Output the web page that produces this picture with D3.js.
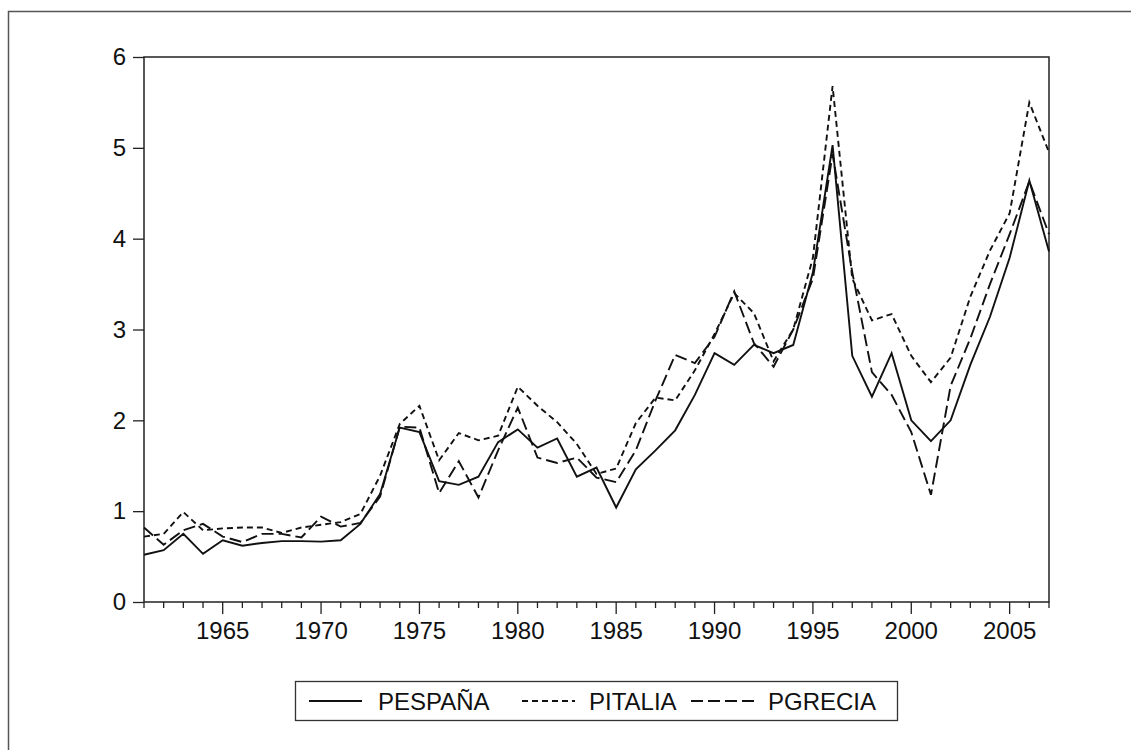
<!DOCTYPE html>
<html>
<head>
<meta charset="utf-8">
<script src="https://cdn.jsdelivr.net/npm/d3@7"></script>
<style>
  body { margin: 0; background: #fff; }
  text { font-family: "Liberation Sans", Arial, sans-serif; fill: #111; }
</style>
</head>
<body>
<div id="chart"></div>
<script>
var years = d3.range(1961, 2008);

var espana = [0.52, 0.57, 0.75, 0.53, 0.68, 0.62, 0.65, 0.67, 0.67, 0.665,
  0.68, 0.86, 1.19, 1.92, 1.87, 1.33, 1.29, 1.38, 1.76, 1.90,
  1.70, 1.80, 1.38, 1.48, 1.04, 1.46, 1.67, 1.89, 2.28, 2.74,
  2.61, 2.83, 2.74, 2.83, 3.63, 5.03, 2.71, 2.26, 2.74, 2.00,
  1.77, 2.00, 2.61, 3.14, 3.79, 4.64, 3.86];

var italia = [0.72, 0.75, 0.99, 0.79, 0.81, 0.82, 0.82, 0.76, 0.82, 0.85,
  0.88, 0.97, 1.39, 1.96, 2.16, 1.56, 1.86, 1.78, 1.83, 2.37,
  2.16, 1.98, 1.74, 1.41, 1.47, 1.97, 2.25, 2.22, 2.55, 2.95,
  3.40, 3.18, 2.65, 3.00, 3.79, 5.68, 3.56, 3.10, 3.17, 2.71,
  2.42, 2.69, 3.36, 3.87, 4.28, 5.50, 4.95];

var grecia = [0.82, 0.63, 0.79, 0.86, 0.72, 0.66, 0.75, 0.75, 0.71, 0.94,
  0.83, 0.87, 1.16, 1.93, 1.92, 1.20, 1.55, 1.15, 1.67, 2.14,
  1.59, 1.53, 1.59, 1.37, 1.32, 1.67, 2.22, 2.72, 2.63, 2.92,
  3.42, 2.85, 2.59, 3.00, 3.56, 4.93, 3.63, 2.53, 2.28, 1.87,
  1.18, 2.38, 2.90, 3.50, 4.05, 4.63, 4.05];

var yTicks = [0, 1, 2, 3, 4, 5, 6];
var xLabels = [1965, 1970, 1975, 1980, 1985, 1990, 1995, 2000, 2005];

var seriesNames = ["PESPAÑA", "PITALIA", "PGRECIA"];
var dashes = [null, "6,4", "12,5"];

var width = 1131, height = 750;
var plot = {left: 144, top: 57, right: 1049, bottom: 602};

var svg = d3.select("#chart").append("svg")
  .attr("width", width)
  .attr("height", height);

// outer frame (runs off the right and bottom edge)
svg.append("rect")
  .attr("x", 8.5).attr("y", 11.5)
  .attr("width", 1300).attr("height", 900)
  .attr("fill", "none")
  .attr("stroke", "#555")
  .attr("stroke-width", 1.5);

var x = d3.scaleLinear().domain([1961, 2007]).range([plot.left, plot.right]);
var y = d3.scaleLinear().domain([0, 6]).range([plot.bottom, plot.top]);

// plot box
svg.append("rect")
  .attr("x", plot.left).attr("y", plot.top)
  .attr("width", plot.right - plot.left)
  .attr("height", plot.bottom - plot.top)
  .attr("fill", "none")
  .attr("stroke", "#222")
  .attr("stroke-width", 1.5);

// y axis
var yAxis = svg.append("g")
  .attr("transform", "translate(" + plot.left + ",0)")
  .call(d3.axisLeft(y).tickValues(yTicks).tickSize(11).tickPadding(7).tickFormat(d3.format("d")));
yAxis.select(".domain").remove();
yAxis.selectAll("line").attr("stroke", "#222").attr("stroke-width", 1.3);
yAxis.selectAll("text")
  .style("font-family", "Liberation Sans, Arial, sans-serif")
  .style("font-size", "24px")
  .attr("fill", "#111");

// x axis: minor ticks every year, longer ticks at labels
var xAxis = svg.append("g")
  .attr("transform", "translate(0," + plot.bottom + ")");
xAxis.selectAll("line.tick")
  .data(years)
  .enter().append("line")
  .attr("class", "tick")
  .attr("x1", function (d) { return x(d); })
  .attr("x2", function (d) { return x(d); })
  .attr("y1", 0)
  .attr("y2", function (d) { return xLabels.indexOf(d) >= 0 ? 12 : 6; })
  .attr("stroke", "#222")
  .attr("stroke-width", 1.3);
xAxis.selectAll("text")
  .data(xLabels)
  .enter().append("text")
  .attr("x", function (d) { return x(d); })
  .attr("y", 37)
  .attr("text-anchor", "middle")
  .style("font-size", "24px")
  .text(function (d) { return d; });

// lines
var line = d3.line()
  .x(function (d, i) { return x(years[i]); })
  .y(function (d) { return y(d); });

[espana, italia, grecia].forEach(function (s, k) {
  svg.append("path")
    .datum(s)
    .attr("d", line)
    .attr("fill", "none")
    .attr("stroke", "#111")
    .attr("stroke-width", 1.9)
    .attr("stroke-linejoin", "miter")
    .attr("stroke-dasharray", dashes[k]);
});

// legend
var legend = svg.append("g");
legend.append("rect")
  .attr("x", 295.5).attr("y", 681.5)
  .attr("width", 602).attr("height", 39)
  .attr("fill", "none")
  .attr("stroke", "#333")
  .attr("stroke-width", 1.3);

var legX = [309, 522, 691];
var legW = [53, 53, 68];
var legTextX = [378, 589, 768];
var legItems = legend.selectAll("g.item")
  .data(seriesNames)
  .enter().append("g")
  .attr("class", "item");
legItems.append("line")
  .attr("x1", function (d, i) { return legX[i]; })
  .attr("x2", function (d, i) { return legX[i] + legW[i]; })
  .attr("y1", 701).attr("y2", 701)
  .attr("stroke", "#111")
  .attr("stroke-width", 1.9)
  .attr("stroke-dasharray", function (d, i) { return dashes[i]; });
legItems.append("text")
  .attr("x", function (d, i) { return legTextX[i]; })
  .attr("y", 709.5)
  .style("font-size", "24px")
  .text(function (d) { return d; });
</script>
</body>
</html>
